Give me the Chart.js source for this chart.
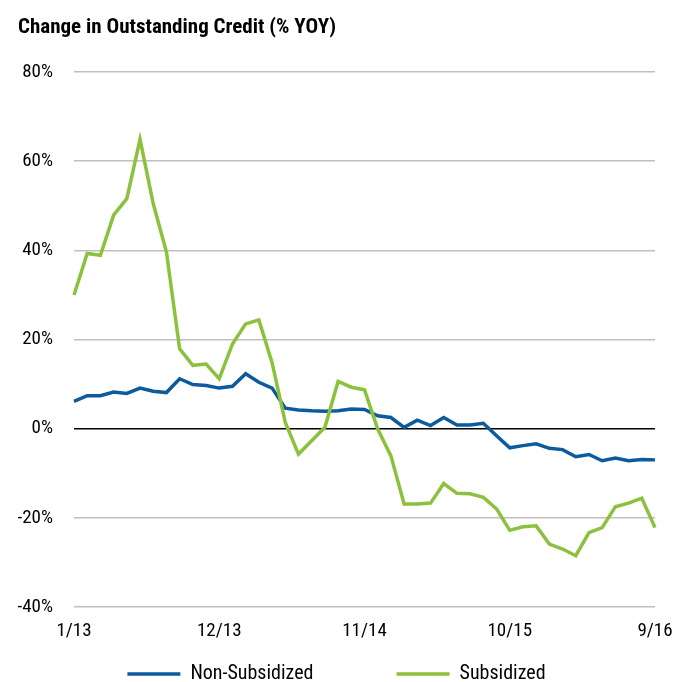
<!DOCTYPE html>
<html>
<head>
<meta charset="utf-8">
<script src="https://cdn.jsdelivr.net/npm/chart.js@4/dist/chart.umd.min.js"></script>
<style>
  html, body { margin: 0; padding: 0; background: #fff; }
  #wrap { width: 688px; height: 682px; }
</style>
</head>
<body>
<div id="wrap"><canvas id="chart" width="688" height="682"></canvas></div>
<script>
/* ---------- datos (% YOY, mensual 1/13 - 9/16) ---------- */
const meses = [
  '1/13','2/13','3/13','4/13','5/13','6/13','7/13','8/13','9/13','10/13','11/13','12/13',
  '1/14','2/14','3/14','4/14','5/14','6/14','7/14','8/14','9/14','10/14','11/14','12/14',
  '1/15','2/15','3/15','4/15','5/15','6/15','7/15','8/15','9/15','10/15','11/15','12/15',
  '1/16','2/16','3/16','4/16','5/16','6/16','7/16','8/16','9/16'
];
const etiquetasX = ['1/13', '12/13', '11/14', '10/15', '9/16'];

const noSubsidiado = [
  6.1, 7.4, 7.4, 8.2, 7.9, 9.1, 8.4, 8.1, 11.2, 9.9, 9.7, 9.1,
  9.5, 12.3, 10.4, 9.1, 4.6, 4.2, 4.0, 3.9, 4.0, 4.4, 4.3, 2.9,
  2.5, 0.3, 1.9, 0.7, 2.5, 0.8, 0.8, 1.2, -1.6, -4.3, -3.8, -3.4,
  -4.4, -4.7, -6.3, -5.8, -7.2, -6.6, -7.2, -6.9, -7.0
];
const subsidiado = [
  30.0, 39.3, 38.9, 47.9, 51.6, 64.9, 50.5, 39.6, 17.9, 14.2, 14.5, 11.2,
  19.0, 23.5, 24.4, 14.8, 1.4, -5.7, -2.7, 0.3, 10.6, 9.3, 8.7, -0.1,
  -6.1, -16.9, -16.9, -16.7, -12.3, -14.5, -14.6, -15.4, -18.0, -22.8, -22.0, -21.8,
  -25.9, -27.0, -28.5, -23.3, -22.2, -17.5, -16.7, -15.6, -22.2
];

const AZUL = '#0d5a9c';
const VERDE = '#8bc13d';
const FUENTE = "'Roboto Condensed', 'Liberation Sans', sans-serif";

/* ---------- gráfica ---------- */
new Chart(document.getElementById('chart'), {
  type: 'line',
  data: {
    labels: meses,
    datasets: [
      { label: 'Non-Subsidized', data: noSubsidiado, borderColor: AZUL, backgroundColor: AZUL,
        borderWidth: 3.5, pointRadius: 0, tension: 0, order: 1 },
      { label: 'Subsidized', data: subsidiado, borderColor: VERDE, backgroundColor: VERDE,
        borderWidth: 3.5, pointRadius: 0, tension: 0, order: 0 }
    ]
  },
  options: {
    responsive: false,
    animation: false,
    layout: { padding: { left: 18, right: 33, top: 11, bottom: -12 } },
    plugins: {
      tooltip: { enabled: false },
      title: {
        display: true,
        text: 'Change in Outstanding Credit (% YOY)',
        align: 'start',
        color: '#000',
        font: { family: FUENTE, size: 21, weight: 'bold' },
        padding: { top: 4, bottom: 31.8 }
      },
      legend: {
        position: 'bottom',
        labels: {
          color: '#000',
          font: { family: FUENTE, size: 20 },
          usePointStyle: true,
          pointStyle: 'line',
          pointStyleWidth: 53,
          padding: 4,
          sort: (a, b) => a.datasetIndex - b.datasetIndex,
          // espacio extra tras el primer elemento para separar las dos entradas
          generateLabels: chart => {
            const items = Chart.defaults.plugins.legend.labels.generateLabels(chart);
            items.forEach(it => { if (it.datasetIndex === 0) it.text += '\u2003\u2003\u2003\u2003\u2002'; });
            return items;
          }
        }
      }
    },
    scales: {
      x: {
        grid: { display: false, drawTicks: false },
        border: { display: false },
        ticks: {
          autoSkip: false,
          maxRotation: 0,
          color: '#000',
          padding: 13,
          font: { family: FUENTE, size: 19 },
          callback: function (v) {
            const l = meses[v];
            return etiquetasX.includes(l) ? l : '';
          }
        },
        afterFit: s => { s.height = 53; }
      },
      y: {
        min: -40,
        max: 80,
        border: { display: false },
        grid: {
          drawTicks: false,
          lineWidth: 1.5,
          color: ctx => ctx.tick.value === 0 ? '#000' : '#c0c0c0'
        },
        ticks: {
          stepSize: 20,
          padding: 21,
          color: '#000',
          font: { family: FUENTE, size: 19 },
          callback: v => v + '%'
        },
        afterFit: s => { s.width = 56; }
      }
    }
  }
});
</script>
</body>
</html>
